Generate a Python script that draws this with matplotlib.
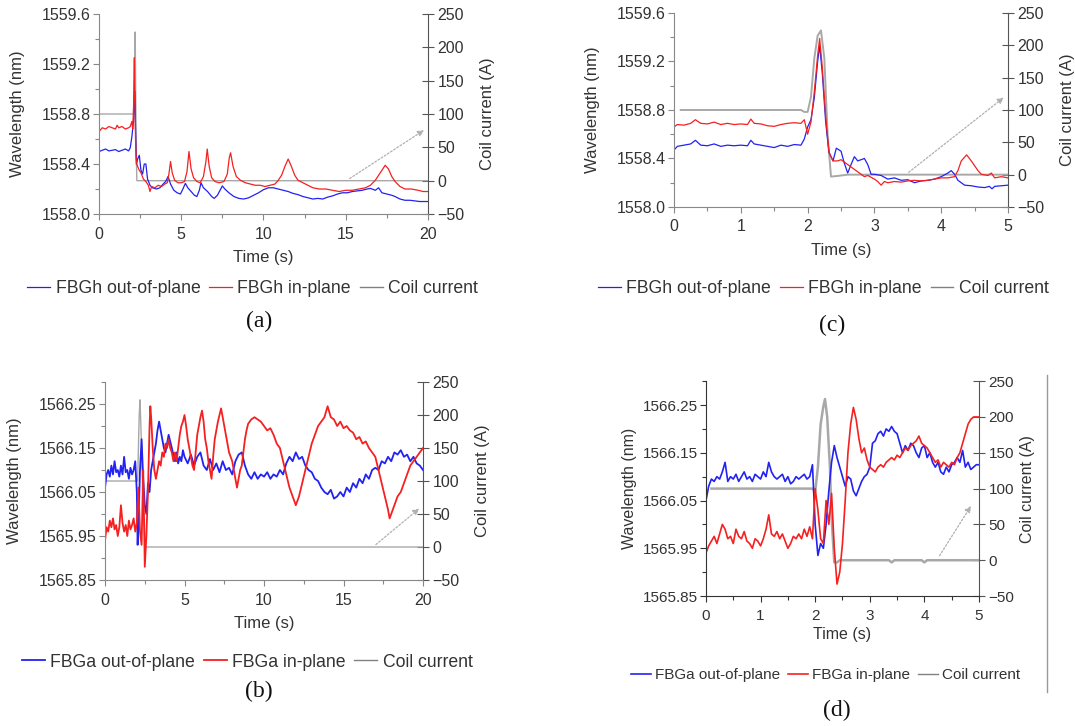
import matplotlib
matplotlib.use("Agg")
import matplotlib.pyplot as plt
from matplotlib.lines import Line2D
from matplotlib.ticker import MultipleLocator, FixedLocator, FormatStrFormatter

plt.rcParams['font.family'] = ['Liberation Sans', 'DejaVu Sans']

BLUE = '#2222f2'
RED = '#f52020'
GREY = '#a8a8a8'
TXT = '#333333'

# ---- panel (a): FBGh, 0-20 s ----
a_blue_t = [0.0, 0.2, 0.4, 0.6, 0.8, 1.0, 1.2, 1.4, 1.6, 1.8, 1.9, 2.0, 2.1, 2.18, 2.22, 2.27,
            2.35, 2.45, 2.55, 2.65, 2.75, 2.85, 2.95, 3.1, 3.25, 3.5, 3.7, 3.9, 4.05, 4.2, 4.35,
            4.55, 4.75, 4.95, 5.1, 5.25, 5.4, 5.6, 5.8, 5.95, 6.1, 6.2, 6.35, 6.6, 6.85, 7.0,
            7.2, 7.5, 7.65, 7.9, 8.2, 8.5, 8.8, 9.1, 9.4, 9.7, 10.0, 10.3, 10.6, 10.9, 11.2,
            11.5, 11.8, 12.1, 12.4, 12.7, 13.0, 13.3, 13.6, 13.9, 14.2, 14.5, 14.8, 15.1, 15.4,
            15.7, 16.0, 16.3, 16.5, 16.8, 17.0, 17.2, 17.5, 17.8, 18.0, 18.3, 18.6, 18.9, 19.2,
            19.5, 19.8, 20.0]
a_blue_v = [1558.50, 1558.51, 1558.52, 1558.505, 1558.51, 1558.515, 1558.50, 1558.51, 1558.52,
            1558.505, 1558.53, 1558.62, 1558.75, 1558.98, 1558.70, 1558.40, 1558.44, 1558.47,
            1558.35, 1558.32, 1558.40, 1558.40, 1558.28, 1558.23, 1558.21, 1558.20, 1558.21,
            1558.24, 1558.26, 1558.30, 1558.24, 1558.19, 1558.17, 1558.16, 1558.20, 1558.245,
            1558.21, 1558.18, 1558.15, 1558.14, 1558.19, 1558.25, 1558.21, 1558.18, 1558.14,
            1558.125, 1558.15, 1558.225, 1558.20, 1558.17, 1558.14, 1558.125, 1558.12, 1558.13,
            1558.15, 1558.17, 1558.195, 1558.21, 1558.21, 1558.20, 1558.19, 1558.18, 1558.165,
            1558.155, 1558.14, 1558.13, 1558.12, 1558.125, 1558.12, 1558.135, 1558.145, 1558.16,
            1558.17, 1558.17, 1558.18, 1558.185, 1558.19, 1558.20, 1558.205, 1558.19, 1558.21,
            1558.17, 1558.16, 1558.15, 1558.14, 1558.12, 1558.11, 1558.11, 1558.105, 1558.10,
            1558.10, 1558.10]
a_red_t = [0.0, 0.2, 0.4, 0.6, 0.8, 1.0, 1.1, 1.2, 1.4, 1.6, 1.8, 1.9, 2.0, 2.05, 2.1, 2.15,
           2.18, 2.22, 2.26, 2.3, 2.35, 2.45, 2.55, 2.7, 2.85, 3.0, 3.1, 3.2, 3.4, 3.6, 3.8, 4.0,
           4.15, 4.25, 4.35, 4.45, 4.6, 4.8, 5.0, 5.2, 5.35, 5.47, 5.6, 5.75, 5.95, 6.15, 6.35,
           6.5, 6.58, 6.7, 6.85, 7.05, 7.3, 7.6, 7.8, 7.92, 8.0, 8.15, 8.35, 8.6, 8.9, 9.2, 9.5,
           9.8, 10.1, 10.4, 10.7, 10.9, 11.1, 11.3, 11.5, 11.7, 11.9, 12.1, 12.4, 12.7, 13.0,
           13.4, 13.8, 14.2, 14.6, 15.0, 15.4, 15.8, 16.2, 16.5, 16.8, 17.1, 17.4, 17.6, 17.8,
           18.0, 18.3, 18.6, 19.0, 19.4, 19.7, 20.0]
a_red_v = [1558.66, 1558.69, 1558.68, 1558.70, 1558.69, 1558.68, 1558.71, 1558.69, 1558.70,
           1558.68, 1558.69, 1558.70, 1558.74, 1558.68, 1558.85, 1559.25, 1558.95, 1558.60,
           1558.45, 1558.40, 1558.38, 1558.35, 1558.33, 1558.28, 1558.26, 1558.23, 1558.18,
           1558.22, 1558.21, 1558.23, 1558.22, 1558.24, 1558.25, 1558.32, 1558.42, 1558.33,
           1558.27, 1558.25, 1558.25, 1558.26, 1558.34, 1558.50, 1558.36, 1558.29, 1558.26,
           1558.25, 1558.30, 1558.42, 1558.52, 1558.38, 1558.29, 1558.26, 1558.25, 1558.26,
           1558.32, 1558.45, 1558.49, 1558.38, 1558.30, 1558.27, 1558.25, 1558.24, 1558.23,
           1558.23, 1558.22, 1558.23, 1558.24, 1558.27, 1558.31, 1558.38, 1558.44, 1558.38,
           1558.31, 1558.27, 1558.25, 1558.23, 1558.21, 1558.20, 1558.20, 1558.19, 1558.18,
           1558.19, 1558.19, 1558.20, 1558.21, 1558.23, 1558.27, 1558.33, 1558.39, 1558.36,
           1558.30, 1558.26, 1558.22, 1558.20, 1558.20, 1558.19, 1558.18, 1558.18]
a_coil_t = [0.0, 2.1, 2.18, 2.2, 2.26, 2.3, 20.0]
a_coil_v = [100, 100, 200, 223, 50, 0, 0]

# ---- panel (c): FBGh, 0-5 s ----
c_blue_t = [0.0, 0.05, 0.15, 0.25, 0.32, 0.4, 0.5, 0.6, 0.7, 0.8, 0.9, 1.0, 1.1, 1.15, 1.2, 1.3,
            1.4, 1.5, 1.6, 1.7, 1.8, 1.9, 1.95, 2.0, 2.05, 2.1, 2.15, 2.18, 2.22, 2.27, 2.32,
            2.38, 2.43, 2.5, 2.55, 2.6, 2.65, 2.7, 2.75, 2.8, 2.85, 2.9, 2.95, 3.0, 3.1, 3.2,
            3.3, 3.4, 3.5, 3.6, 3.7, 3.8, 3.9, 4.0, 4.1, 4.15, 4.2, 4.25, 4.3, 4.35, 4.45, 4.55,
            4.65, 4.72, 4.76, 4.8, 4.9, 5.0]
c_blue_v = [1558.47, 1558.50, 1558.51, 1558.52, 1558.55, 1558.51, 1558.505, 1558.52, 1558.50,
            1558.51, 1558.505, 1558.51, 1558.505, 1558.55, 1558.52, 1558.51, 1558.50, 1558.49,
            1558.51, 1558.50, 1558.515, 1558.51, 1558.56, 1558.66, 1558.72, 1558.90, 1559.20,
            1559.33, 1559.10, 1558.70, 1558.45, 1558.38, 1558.485, 1558.46, 1558.36, 1558.28,
            1558.35, 1558.415, 1558.38, 1558.39, 1558.40, 1558.35, 1558.27, 1558.27, 1558.26,
            1558.23, 1558.24, 1558.22, 1558.225, 1558.20, 1558.215, 1558.22, 1558.23, 1558.25,
            1558.28, 1558.30, 1558.27, 1558.22, 1558.20, 1558.18, 1558.175, 1558.165, 1558.16,
            1558.17, 1558.15, 1558.17, 1558.175, 1558.18]
c_red_t = [0.0, 0.05, 0.15, 0.25, 0.32, 0.4, 0.5, 0.6, 0.7, 0.8, 0.9, 1.0, 1.1, 1.15, 1.2, 1.3,
           1.4, 1.5, 1.6, 1.7, 1.8, 1.9, 1.95, 2.0, 2.05, 2.1, 2.15, 2.18, 2.22, 2.27, 2.32,
           2.38, 2.45, 2.5, 2.55, 2.6, 2.7, 2.8, 2.85, 2.9, 3.0, 3.05, 3.1, 3.15, 3.2, 3.3, 3.4,
           3.5, 3.6, 3.7, 3.8, 3.9, 4.0, 4.1, 4.2, 4.25, 4.3, 4.38, 4.45, 4.5, 4.55, 4.6, 4.7,
           4.75, 4.8, 4.9, 5.0]
c_red_v = [1558.66, 1558.68, 1558.675, 1558.69, 1558.72, 1558.69, 1558.685, 1558.70, 1558.68,
           1558.69, 1558.68, 1558.685, 1558.68, 1558.725, 1558.69, 1558.685, 1558.67, 1558.665,
           1558.68, 1558.69, 1558.695, 1558.69, 1558.72, 1558.60, 1558.70, 1558.95, 1559.25,
           1559.39, 1559.15, 1558.75, 1558.45, 1558.38, 1558.38, 1558.39, 1558.37, 1558.35,
           1558.31, 1558.27, 1558.25, 1558.26, 1558.23, 1558.21, 1558.18, 1558.21, 1558.20,
           1558.21, 1558.205, 1558.215, 1558.22, 1558.215, 1558.22, 1558.23, 1558.24, 1558.24,
           1558.25, 1558.30, 1558.38, 1558.43, 1558.38, 1558.34, 1558.30, 1558.27, 1558.26,
           1558.28, 1558.24, 1558.25, 1558.24]
c_coil_t = [0.1, 1.9, 1.95, 2.0, 2.05, 2.1, 2.15, 2.2, 2.25, 2.3, 2.35, 2.45, 2.6, 5.0]
c_coil_v = [100, 100, 97, 97, 120, 180, 215, 223, 180, 60, -3, -2, 0, 0]

# ---- panel (b): FBGa, 0-20 s ----
b_blue_t = [0.0, 0.1, 0.2, 0.3, 0.4, 0.5, 0.6, 0.7, 0.8, 0.9, 1.0, 1.1, 1.2, 1.3, 1.4, 1.5, 1.6,
            1.7, 1.8, 1.9, 2.0, 2.05, 2.12, 2.2, 2.3, 2.4, 2.5, 2.6, 2.7, 2.8, 2.9, 3.0, 3.1,
            3.2, 3.3, 3.4, 3.5, 3.6, 3.7, 3.8, 3.9, 4.0, 4.1, 4.2, 4.3, 4.4, 4.5, 4.6, 4.7, 4.8,
            4.9, 5.0, 5.2, 5.4, 5.6, 5.8, 6.0, 6.2, 6.4, 6.6, 6.8, 7.0, 7.2, 7.4, 7.6, 7.8, 8.0,
            8.2, 8.4, 8.6, 8.8, 9.0, 9.2, 9.4, 9.6, 9.8, 10.0, 10.2, 10.4, 10.6, 10.8, 11.0,
            11.2, 11.4, 11.6, 11.8, 12.0, 12.2, 12.4, 12.6, 12.8, 13.0, 13.2, 13.4, 13.6, 13.8,
            14.0, 14.2, 14.4, 14.6, 14.8, 15.0, 15.2, 15.4, 15.6, 15.8, 16.0, 16.2, 16.4, 16.6,
            16.8, 17.0, 17.2, 17.4, 17.6, 17.8, 18.0, 18.2, 18.4, 18.6, 18.8, 19.0, 19.2, 19.4,
            19.6, 19.8, 20.0]
b_blue_v = [1566.06, 1566.09, 1566.10, 1566.085, 1566.11, 1566.09, 1566.12, 1566.095, 1566.10,
            1566.085, 1566.11, 1566.09, 1566.13, 1566.095, 1566.10, 1566.08, 1566.105, 1566.09,
            1566.10, 1566.12, 1566.05, 1565.93, 1566.00, 1566.10, 1566.17, 1566.08, 1566.02,
            1566.00, 1566.07, 1566.05, 1566.10, 1566.12, 1566.14, 1566.16, 1566.19, 1566.21,
            1566.19, 1566.17, 1566.15, 1566.14, 1566.16, 1566.18, 1566.165, 1566.15, 1566.135,
            1566.12, 1566.14, 1566.115, 1566.13, 1566.12, 1566.145, 1566.13, 1566.115, 1566.135,
            1566.11, 1566.13, 1566.14, 1566.11, 1566.10, 1566.125, 1566.10, 1566.115, 1566.095,
            1566.12, 1566.10, 1566.105, 1566.09, 1566.12, 1566.135, 1566.14, 1566.11, 1566.09,
            1566.08, 1566.095, 1566.08, 1566.09, 1566.085, 1566.095, 1566.08, 1566.09, 1566.085,
            1566.10, 1566.09, 1566.115, 1566.13, 1566.12, 1566.14, 1566.125, 1566.13, 1566.11,
            1566.10, 1566.095, 1566.08, 1566.075, 1566.06, 1566.05, 1566.045, 1566.055, 1566.035,
            1566.04, 1566.05, 1566.04, 1566.06, 1566.05, 1566.07, 1566.06, 1566.08, 1566.07,
            1566.09, 1566.08, 1566.10, 1566.105, 1566.10, 1566.12, 1566.115, 1566.13, 1566.12,
            1566.14, 1566.135, 1566.145, 1566.13, 1566.135, 1566.12, 1566.13, 1566.115, 1566.11,
            1566.10]
b_red_t = [0.0, 0.1, 0.2, 0.3, 0.4, 0.5, 0.6, 0.7, 0.8, 0.9, 1.0, 1.1, 1.2, 1.3, 1.4, 1.5, 1.6,
           1.7, 1.8, 1.9, 2.0, 2.1, 2.2, 2.3, 2.4, 2.45, 2.5, 2.6, 2.7, 2.8, 2.85, 2.9, 3.0, 3.1,
           3.2, 3.3, 3.4, 3.5, 3.6, 3.7, 3.8, 3.9, 4.0, 4.1, 4.2, 4.3, 4.4, 4.5, 4.6, 4.7, 4.8,
           4.9, 5.0, 5.1, 5.2, 5.3, 5.4, 5.5, 5.6, 5.7, 5.8, 5.9, 6.0, 6.1, 6.2, 6.3, 6.4, 6.5,
           6.6, 6.7, 6.8, 6.9, 7.0, 7.1, 7.2, 7.3, 7.4, 7.5, 7.6, 7.7, 7.8, 7.9, 8.0, 8.1, 8.2,
           8.3, 8.4, 8.5, 8.6, 8.7, 8.8, 8.9, 9.0, 9.2, 9.4, 9.6, 9.8, 10.0, 10.2, 10.4, 10.6,
           10.8, 11.0, 11.2, 11.4, 11.6, 11.8, 12.0, 12.2, 12.4, 12.6, 12.8, 13.0, 13.2, 13.4,
           13.6, 13.8, 14.0, 14.2, 14.4, 14.6, 14.8, 15.0, 15.2, 15.4, 15.6, 15.8, 16.0, 16.2,
           16.4, 16.6, 16.8, 17.0, 17.2, 17.4, 17.6, 17.8, 17.9, 18.0, 18.2, 18.4, 18.6, 18.8,
           19.0, 19.2, 19.4, 19.6, 19.8, 20.0]
b_red_v = [1565.94, 1565.97, 1565.96, 1565.985, 1565.97, 1565.99, 1565.965, 1565.975, 1565.95,
           1565.97, 1566.02, 1565.98, 1565.96, 1565.975, 1565.95, 1565.985, 1565.965, 1565.975,
           1565.99, 1565.96, 1565.98, 1566.06, 1565.96, 1565.93, 1566.10, 1566.00, 1565.88,
           1565.95, 1566.05, 1566.20, 1566.245, 1566.22, 1566.15, 1566.10, 1566.08, 1566.10,
           1566.12, 1566.11, 1566.14, 1566.13, 1566.16, 1566.15, 1566.17, 1566.15, 1566.14,
           1566.12, 1566.14, 1566.12, 1566.15, 1566.18, 1566.20, 1566.21, 1566.225, 1566.20,
           1566.17, 1566.15, 1566.13, 1566.11, 1566.10, 1566.14, 1566.18, 1566.20, 1566.22,
           1566.235, 1566.21, 1566.17, 1566.15, 1566.12, 1566.10, 1566.08, 1566.13, 1566.17,
           1566.19, 1566.21, 1566.225, 1566.24, 1566.22, 1566.20, 1566.18, 1566.16, 1566.14,
           1566.13, 1566.12, 1566.10, 1566.08, 1566.06, 1566.08, 1566.10, 1566.11, 1566.14,
           1566.17, 1566.19, 1566.205, 1566.215, 1566.22, 1566.215, 1566.21, 1566.20, 1566.19,
           1566.195, 1566.18, 1566.16, 1566.15, 1566.12, 1566.09, 1566.06, 1566.04, 1566.02,
           1566.04, 1566.07, 1566.10, 1566.13, 1566.16, 1566.18, 1566.20, 1566.21, 1566.22,
           1566.245, 1566.22, 1566.215, 1566.20, 1566.21, 1566.195, 1566.20, 1566.19, 1566.185,
           1566.17, 1566.175, 1566.16, 1566.165, 1566.15, 1566.14, 1566.13, 1566.10, 1566.07,
           1566.04, 1566.01, 1565.99, 1566.00, 1566.02, 1566.04, 1566.05, 1566.07, 1566.09,
           1566.11, 1566.12, 1566.13, 1566.14, 1566.15]
b_coil_t = [0.0, 2.05, 2.15, 2.2, 2.3, 2.4, 2.55, 20.0]
b_coil_v = [100, 100, 200, 223, 150, 50, 0, 0]

# ---- panel (d): FBGa, 0-5 s ----
d_blue_t = [0.0, 0.05, 0.1, 0.15, 0.2, 0.25, 0.3, 0.35, 0.4, 0.45, 0.5, 0.55, 0.6, 0.65, 0.7,
            0.75, 0.8, 0.85, 0.9, 0.95, 1.0, 1.05, 1.1, 1.15, 1.2, 1.25, 1.3, 1.35, 1.4, 1.45,
            1.5, 1.55, 1.6, 1.65, 1.7, 1.75, 1.8, 1.85, 1.9, 1.95, 2.0, 2.05, 2.1, 2.15, 2.2,
            2.25, 2.3, 2.35, 2.4, 2.45, 2.5, 2.55, 2.6, 2.65, 2.7, 2.75, 2.8, 2.85, 2.9, 2.95,
            3.0, 3.05, 3.1, 3.15, 3.2, 3.25, 3.3, 3.35, 3.4, 3.45, 3.5, 3.55, 3.6, 3.65, 3.7,
            3.75, 3.8, 3.85, 3.9, 3.95, 4.0, 4.05, 4.1, 4.15, 4.2, 4.25, 4.3, 4.35, 4.4, 4.45,
            4.5, 4.55, 4.6, 4.65, 4.7, 4.75, 4.8, 4.85, 4.9, 4.95, 5.0]
d_blue_v = [1566.05, 1566.08, 1566.095, 1566.09, 1566.10, 1566.095, 1566.11, 1566.13, 1566.09,
            1566.10, 1566.095, 1566.105, 1566.09, 1566.10, 1566.11, 1566.095, 1566.10, 1566.09,
            1566.105, 1566.10, 1566.095, 1566.11, 1566.10, 1566.13, 1566.11, 1566.10, 1566.095,
            1566.10, 1566.105, 1566.09, 1566.10, 1566.085, 1566.09, 1566.10, 1566.095, 1566.10,
            1566.105, 1566.095, 1566.10, 1566.125, 1566.00, 1565.935, 1565.96, 1565.95, 1566.00,
            1566.07, 1566.13, 1566.165, 1566.14, 1566.12, 1566.10, 1566.08, 1566.10, 1566.095,
            1566.07, 1566.06, 1566.075, 1566.09, 1566.10, 1566.105, 1566.12, 1566.17, 1566.175,
            1566.19, 1566.195, 1566.185, 1566.20, 1566.195, 1566.205, 1566.195, 1566.19, 1566.17,
            1566.15, 1566.165, 1566.155, 1566.17, 1566.165, 1566.15, 1566.14, 1566.16, 1566.165,
            1566.14, 1566.15, 1566.13, 1566.12, 1566.13, 1566.11, 1566.105, 1566.12, 1566.11,
            1566.125, 1566.13, 1566.14, 1566.13, 1566.155, 1566.12, 1566.13, 1566.115, 1566.12,
            1566.125, 1566.125]
d_red_t = [0.0, 0.05, 0.1, 0.15, 0.2, 0.25, 0.3, 0.35, 0.4, 0.45, 0.5, 0.55, 0.6, 0.65, 0.7,
           0.75, 0.8, 0.85, 0.9, 0.95, 1.0, 1.05, 1.1, 1.15, 1.2, 1.25, 1.3, 1.35, 1.4, 1.45,
           1.5, 1.55, 1.6, 1.65, 1.7, 1.75, 1.8, 1.85, 1.9, 1.95, 2.0, 2.05, 2.1, 2.15, 2.2,
           2.25, 2.3, 2.35, 2.4, 2.45, 2.5, 2.55, 2.6, 2.65, 2.7, 2.75, 2.8, 2.85, 2.9, 2.95,
           3.0, 3.05, 3.1, 3.15, 3.2, 3.25, 3.3, 3.35, 3.4, 3.45, 3.5, 3.55, 3.6, 3.65, 3.7,
           3.75, 3.8, 3.85, 3.9, 3.95, 4.0, 4.05, 4.1, 4.15, 4.2, 4.25, 4.3, 4.35, 4.4, 4.45,
           4.5, 4.55, 4.6, 4.65, 4.7, 4.75, 4.8, 4.85, 4.9, 5.0]
d_red_v = [1565.94, 1565.955, 1565.965, 1565.975, 1565.96, 1565.98, 1566.00, 1565.99, 1565.97,
           1565.975, 1565.96, 1565.99, 1565.975, 1565.97, 1565.985, 1565.965, 1565.96, 1565.95,
           1565.97, 1565.965, 1565.955, 1565.97, 1565.99, 1566.02, 1565.98, 1565.975, 1565.985,
           1565.97, 1565.98, 1565.965, 1565.95, 1565.96, 1565.975, 1565.97, 1565.98, 1565.97,
           1565.99, 1565.975, 1565.995, 1565.97, 1566.075, 1566.03, 1565.97, 1565.96, 1566.05,
           1566.00, 1566.065, 1565.95, 1565.875, 1565.90, 1565.96, 1566.05, 1566.15, 1566.21,
           1566.245, 1566.22, 1566.18, 1566.15, 1566.16, 1566.135, 1566.12, 1566.115, 1566.11,
           1566.12, 1566.125, 1566.12, 1566.13, 1566.135, 1566.14, 1566.135, 1566.145, 1566.14,
           1566.15, 1566.16, 1566.155, 1566.165, 1566.17, 1566.175, 1566.185, 1566.17, 1566.165,
           1566.16, 1566.15, 1566.14, 1566.13, 1566.135, 1566.12, 1566.13, 1566.125, 1566.12,
           1566.13, 1566.125, 1566.14, 1566.15, 1566.17, 1566.19, 1566.21, 1566.22, 1566.225,
           1566.225]
d_coil_t = [0.1, 1.95, 2.0, 2.05, 2.1, 2.15, 2.18, 2.22, 2.27, 2.3, 2.35, 2.4, 2.45, 3.35, 3.4,
            3.45, 3.95, 4.0, 4.05, 5.0]
d_coil_v = [100, 100, 95, 130, 190, 215, 225, 200, 130, 60, -3, -3, 0, 0, -3, 0, 0, -3, 0, 0]

# tick labels on the wavelength axes
h_ticks = [1558.0, 1558.4, 1558.8, 1559.2, 1559.6]
h_minor = [1558.2, 1558.6, 1559.0, 1559.4]
a_ticks = [1565.85, 1565.95, 1566.05, 1566.15, 1566.25]
a_minor = [1565.90, 1566.00, 1566.10, 1566.20, 1566.30]

legend_h = ['FBGh out-of-plane', 'FBGh in-plane', 'Coil current']
legend_a = ['FBGa out-of-plane', 'FBGa in-plane', 'Coil current']


def draw_panel(fig, rect, blue, red, coil, xlim, xmaj, xmin, ylim, yticks, yminor, yfmt,
               arrow, labels, leg_xy, tag, tag_xy, coil_lw=1.0, lw=0.9,
               spine='#888888', fs=11.5, lfs=12, leg_fs=12.7, pads=(6, 12, 11)):
    ax1 = fig.add_axes(rect)
    ax2 = ax1.twinx()
    ax1.set_zorder(ax2.get_zorder() + 1)
    ax1.patch.set_visible(False)

    l1, = ax1.plot(blue[0], blue[1], color=BLUE, lw=lw)
    l2, = ax1.plot(red[0], red[1], color=RED, lw=lw)
    ax2.plot(coil[0], coil[1], color=GREY, lw=coil_lw)

    ax1.set_xlim(*xlim)
    ax1.set_ylim(*ylim)
    ax2.set_ylim(-50, 250)
    ax1.xaxis.set_major_locator(MultipleLocator(xmaj))
    ax1.xaxis.set_minor_locator(MultipleLocator(xmin))
    ax1.yaxis.set_major_locator(FixedLocator(yticks))
    ax1.yaxis.set_minor_locator(FixedLocator(yminor))
    ax1.yaxis.set_major_formatter(FormatStrFormatter(yfmt))
    ax2.yaxis.set_major_locator(MultipleLocator(50))

    for ax in (ax1, ax2):
        ax.spines['top'].set_visible(False)
    ax1.spines['left'].set_color(spine)
    ax1.spines['bottom'].set_color(spine)
    ax1.spines['right'].set_visible(False)
    ax2.spines['left'].set_visible(False)
    ax2.spines['bottom'].set_visible(False)
    ax2.spines['right'].set_color('#555555')

    ax1.tick_params(axis='both', which='major', direction='out', length=4, width=0.8,
                    color=spine, labelsize=fs, labelcolor=TXT)
    ax1.tick_params(axis='x', which='major', pad=5)
    ax1.tick_params(axis='y', which='major', pad=2)
    ax1.tick_params(axis='both', which='minor', direction='out', length=3, width=0.8,
                    color=spine)
    ax2.tick_params(axis='y', which='major', direction='inout', length=8, width=0.8,
                    color='#555555', labelsize=fs, labelcolor=TXT, pad=3)

    ax1.set_xlabel('Time (s)', fontsize=lfs, color=TXT, labelpad=pads[0])
    ax1.set_ylabel('Wavelength (nm)', fontsize=lfs, color=TXT, labelpad=pads[1])
    ax2.set_ylabel('Coil current (A)', fontsize=lfs, color=TXT, labelpad=pads[2])

    ax2.annotate('', xy=arrow[1], xytext=arrow[0],
                 arrowprops=dict(arrowstyle='-|>', color='#b0b0b0', lw=0.9,
                                 linestyle=(0, (1.5, 1.5)), mutation_scale=9))

    fig.legend([l1, l2, Line2D([], [], color='#808080', lw=1.0)], labels,
               loc='center', bbox_to_anchor=leg_xy, ncol=3, frameon=False, fontsize=leg_fs,
               handlelength=1.3, handletextpad=0.3, columnspacing=0.5, labelcolor=TXT)
    fig.text(tag_xy[0], tag_xy[1], tag, ha='center', va='center', fontsize=17,
             family=['Liberation Serif', 'DejaVu Serif'], color='#111111')
    return ax1, ax2


fig = plt.figure(figsize=(10.75, 7.26), dpi=100)

draw_panel(fig, [0.0921, 0.7052, 0.3060, 0.2755], (a_blue_t, a_blue_v), (a_red_t, a_red_v),
           (a_coil_t, a_coil_v), (0, 20), 5, 2.5, (1558.0, 1559.6), h_ticks, h_minor, '%.1f',
           ((15.1, 1), (19.9, 78)), legend_h, (0.235, 0.603), '(a)', (0.241, 0.557))

draw_panel(fig, [0.6270, 0.7149, 0.3107, 0.2672], (c_blue_t, c_blue_v), (c_red_t, c_red_v),
           (c_coil_t, c_coil_v), (0, 5), 1, 0.5, (1558.0, 1559.6), h_ticks, h_minor, '%.1f',
           ((3.48, 1), (4.97, 122)), legend_h, (0.766, 0.603), '(c)', (0.774, 0.552),
           coil_lw=1.4)

draw_panel(fig, [0.0977, 0.2011, 0.2958, 0.2727], (b_blue_t, b_blue_v), (b_red_t, b_red_v),
           (b_coil_t, b_coil_v), (0, 20), 5, 2.5, (1565.85, 1566.30), a_ticks, a_minor, '%.2f',
           ((16.9, 1), (19.9, 61)), legend_a, (0.230, 0.088), '(b)', (0.241, 0.047),
           lw=1.3)

draw_panel(fig, [0.6567, 0.1790, 0.2540, 0.2960], (d_blue_t, d_blue_v), (d_red_t, d_red_v),
           (d_coil_t, d_coil_v), (0, 5), 1, 0.5, (1565.85, 1566.30), a_ticks, a_minor, '%.2f',
           ((4.25, 3), (4.88, 79)), legend_a, (0.768, 0.070), '(d)', (0.778, 0.022),
           coil_lw=1.8, lw=1.2, spine='#333333', fs=11, lfs=11.5, leg_fs=11,
           pads=(3, 4, 4))

# thin frame edge that sits right of panel (d)
fig.add_artist(Line2D([1047 / 1075, 1047 / 1075], [1 - 375 / 726, 1 - 692 / 726],
                      color='#9a9a9a', lw=1.0))

fig.savefig('out.png', dpi=100)
